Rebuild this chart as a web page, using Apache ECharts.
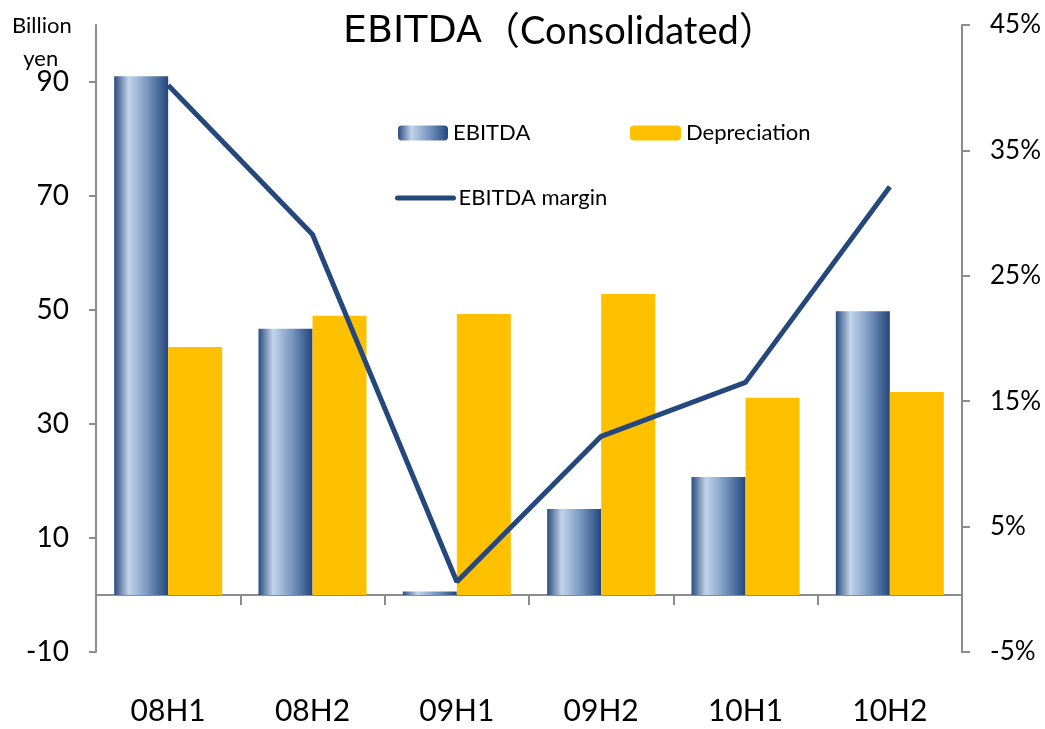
<!DOCTYPE html>
<html>
<head>
<meta charset="utf-8">
<script src="https://cdn.jsdelivr.net/npm/echarts@6/dist/echarts.min.js"></script>
<style>
  html, body { margin: 0; padding: 0; background: #fff; }
  #chart { width: 1045px; height: 729px; }
</style>
</head>
<body>
<div id="chart"></div>
<script>
// data
const periods = ["08H1", "08H2", "09H1", "09H2", "10H1", "10H2"];
const ebitda = [91.0, 46.7, 0.6, 15.1, 20.7, 49.8];
const depreciation = [43.5, 49.0, 49.3, 52.8, 34.6, 35.6];
const ebitdaMargin = [40.2, 28.3, 0.6, 12.2, 16.5, 32.1];
const leftTicks = [-10, 10, 30, 50, 70, 90];

const FONT = "Lato, 'Open Sans', sans-serif";
const AXIS_GREY = "#8c8c8c";

const chart = echarts.init(document.getElementById("chart"));

const barGradient = new echarts.graphic.LinearGradient(0, 0, 1, 0, [
  { offset: 0, color: "#2a4c80" },
  { offset: 0.27, color: "#c3d4eb" },
  { offset: 0.6, color: "#7d9ac2" },
  { offset: 1, color: "#23467c" }
]);

const legendText = { fontFamily: FONT, fontSize: 22, color: "#000" };

const option = {
  animation: false,
  textStyle: { fontFamily: FONT, color: "#000" },
  title: {
    text: "{a|EBITDA}{b|（Consolidated）}",
    left: 338,
    top: 8,
    textStyle: {
      fontWeight: "normal",
      rich: {
        a: { fontFamily: "'DejaVu Sans'", fontSize: 38, fontWeight: "normal", color: "#000" },
        b: { fontFamily: FONT + ", 'Noto Sans CJK JP'", fontSize: 38, fontWeight: "normal", color: "#000" }
      }
    }
  },
  graphic: [
    {
      type: "text",
      left: 12,
      top: 9,
      style: {
        text: "Billion\n  yen",
        font: "22px " + FONT,
        lineHeight: 33,
        fill: "#000"
      }
    }
  ],
  legend: [
    {
      left: 393, top: 117,
      itemWidth: 50, itemHeight: 15, itemGap: 8,
      textStyle: legendText,
      data: ["EBITDA"]
    },
    {
      left: 625, top: 117,
      itemWidth: 51, itemHeight: 15,
      textStyle: legendText,
      data: ["Depreciation"]
    },
    {
      left: 390, top: 182,
      itemWidth: 56, itemHeight: 15,
      textStyle: legendText,
      lineStyle: { width: 5, cap: "round" },
      itemStyle: { opacity: 0 },
      data: ["EBITDA margin"]
    }
  ],
  grid: { left: 96, right: 83, top: 25, bottom: 77, outerBoundsMode: "none" },
  xAxis: [
    {
      // axis line at zero with the boundary ticks
      type: "category",
      data: periods,
      axisLine: { onZero: true, lineStyle: { color: AXIS_GREY, width: 2 } },
      axisTick: { show: true, length: 10, lineStyle: { color: AXIS_GREY, width: 2 } },
      axisLabel: { show: false }
    },
    {
      // labels only, at the bottom of the plot
      type: "category",
      data: periods,
      position: "bottom",
      axisLine: { show: false, onZero: false },
      axisTick: { show: false },
      axisLabel: { margin: 44, fontSize: 30, color: "#000", fontFamily: FONT }
    }
  ],
  yAxis: [
    {
      type: "value",
      min: -10,
      max: 100,
      interval: 20,
      position: "left",
      splitLine: { show: false },
      axisLine: { show: true, lineStyle: { color: AXIS_GREY, width: 2 } },
      axisTick: { show: true, length: 7, customValues: leftTicks, lineStyle: { color: AXIS_GREY, width: 2 } },
      axisLabel: { margin: 27, fontSize: 28, color: "#000", fontFamily: FONT, customValues: leftTicks }
    },
    {
      type: "value",
      min: -5,
      max: 45,
      interval: 10,
      position: "right",
      splitLine: { show: false },
      axisLine: { show: true, lineStyle: { color: AXIS_GREY, width: 2 } },
      axisTick: { show: true, length: 8, lineStyle: { color: AXIS_GREY, width: 2 } },
      axisLabel: { margin: 28, fontSize: 26, color: "#000", fontFamily: FONT, formatter: "{value}%" }
    }
  ],
  series: [
    {
      name: "EBITDA",
      type: "bar",
      data: ebitda,
      barWidth: 54,
      barGap: "0%",
      itemStyle: { color: barGradient }
    },
    {
      name: "Depreciation",
      type: "bar",
      data: depreciation,
      barWidth: 54,
      barGap: "0%",
      itemStyle: { color: "#ffc000" }
    },
    {
      name: "EBITDA margin",
      type: "line",
      yAxisIndex: 1,
      data: ebitdaMargin,
      symbol: "none",
      z: 5,
      lineStyle: { color: "#24487c", width: 5 },
      itemStyle: { color: "#24487c" }
    }
  ]
};

chart.setOption(option);
</script>
</body>
</html>
